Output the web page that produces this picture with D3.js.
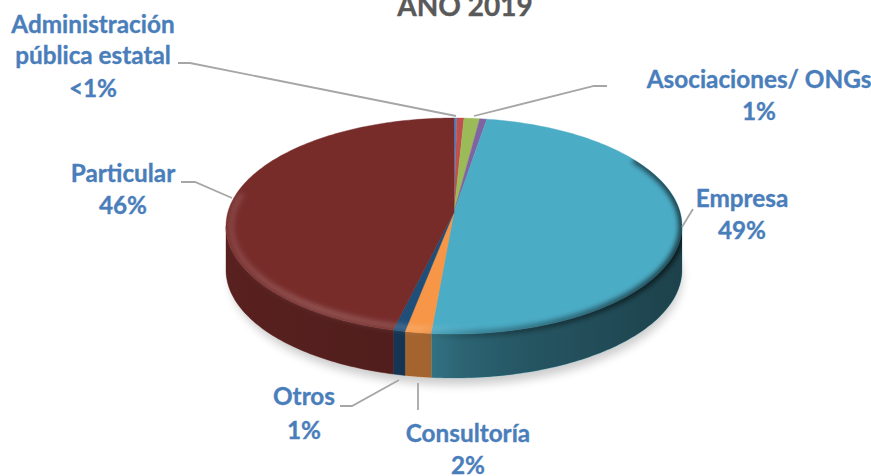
<!DOCTYPE html>
<html><head><meta charset="utf-8">
<script src="https://cdn.jsdelivr.net/npm/d3@7"></script>
<style>html,body{margin:0;background:#fff}svg{display:block}text{font-family:Lato,"Open Sans",sans-serif;font-weight:700}</style>
</head><body><svg id="c" width="871" height="476"></svg>
<script>
const categories=["Administración pública estatal","Rojo","Asociaciones/ ONGs","Morado","Empresa","Consultoría","Otros","Particular"];
const values=[0.2,0.5,1.1,0.5,49.3,1.85,0.85,45.7];
const colors=["#4f81bd","#c0504d","#9bbb59","#8064a2","#4bacc6","#f79646","#1f4e79","#772c2a"];
const labels=[
 {lines:["Administración","pública estatal","<1%"],x:93,y:[33,64,97],leader:[[178,63],[190,63],[456,116]]},
 {lines:["Asociaciones/ ONGs","1%"],x:759,y:[88,120],leader:[[607,86],[594,86],[474,116]]},
 {lines:["Empresa","49%"],x:742,y:[207,239],leader:[[693,209],[682,227]]},
 {lines:["Consultoría","2%"],x:468,y:[442,474],leader:[[418,410],[418,383]]},
 {lines:["Otros","1%"],x:304,y:[405,439],leader:[[340,406],[352,406],[399,380]]},
 {lines:["Particular","46%"],x:123,y:[182,214],leader:[[181,182],[195,182],[232,198]]}
];
const titleText="AÑO 2019";

const cx=454,cy=226,rx=228,ry=108,depth=44,apex=[454,212];
const svg=d3.select("#c"),defs=svg.append("defs");
const pieGen=d3.pie().sort(null).value(d=>d);
const arcs=pieGen(values);
const pt=(a,dy=0)=>[cx+rx*Math.sin(a),cy-ry*Math.cos(a)+dy];
const lineGen=d3.line();
const rad=d=>d*Math.PI/180;
function samples(a0,a1){const n=Math.max(2,Math.ceil((a1-a0)/0.02));return d3.range(n+1).map(i=>a0+(a1-a0)*i/n);}
function blurFilter(id,sd){const f=defs.append("filter").attr("id",id).attr("filterUnits","userSpaceOnUse").attr("x",0).attr("y",0).attr("width",871).attr("height",476);f.append("feGaussianBlur").attr("stdDeviation",sd);}
function hGrad(id,color,stops){const g=defs.append("linearGradient").attr("id",id).attr("gradientUnits","userSpaceOnUse").attr("x1",cx-rx).attr("x2",cx+rx).attr("y1",0).attr("y2",0);stops.forEach(s=>g.append("stop").attr("offset",s[0]).attr("stop-color",color).attr("stop-opacity",s[1]));}
blurFilter("b",5);blurFilter("b2",2.5);
hGrad("sideShade","#000",[[0,.26],[.35,.32],[.45,.34],[.52,.42],[.65,.5],[1,.62]]);
hGrad("rimLight","#fff",[[0,.12],[.2,.2],[.42,.16],[.52,.03],[.6,0],[1,0]]);
hGrad("rimDark","#000",[[0,0],[.42,0],[.55,.25],[.8,.45],[1,.65]]);

svg.append("ellipse").attr("cx",cx+2).attr("cy",cy+depth+7).attr("rx",rx-2).attr("ry",ry)
  .attr("fill","#000").attr("opacity",.2).attr("filter","url(#b)");

const sideG=svg.append("g");
arcs.forEach((d,i)=>{
  const a0=Math.max(d.startAngle,Math.PI/2),a1=Math.min(d.endAngle,Math.PI*1.5);
  if(a1<=a0)return;
  const s=samples(a0,a1);
  const p=s.map(a=>pt(a)).concat(s.slice().reverse().map(a=>pt(a,depth)));
  sideG.append("path").attr("d",lineGen(p)+"Z").attr("fill",colors[i]).attr("stroke",colors[i]).attr("stroke-width",.4);
  sideG.append("path").attr("d",lineGen(p)+"Z").attr("fill","url(#sideShade)");
});

const topG=svg.append("g");
arcs.forEach((d,i)=>{
  const p=[apex].concat(samples(d.startAngle,d.endAngle).map(a=>pt(a)));
  topG.append("path").attr("d",lineGen(p)+"Z").attr("fill",colors[i]).attr("stroke",colors[i]).attr("stroke-width",.4);
});
const silhouette=samples(0,Math.PI*2).map(a=>pt(a,Math.cos(a)<0?depth:0));
defs.append("clipPath").attr("id","pieClip").append("path").attr("d",lineGen(silhouette)+"Z");
const bevel=svg.append("g").attr("clip-path","url(#pieClip)");
const innerRim=samples(rad(175),rad(288)).map(a=>[cx+(rx-5)*Math.sin(a),cy-(ry-4)*Math.cos(a)]);
bevel.append("path").attr("d",lineGen(innerRim)).attr("fill","none")
  .attr("stroke","url(#rimLight)").attr("stroke-width",6).attr("filter","url(#b2)");
bevel.append("path").attr("d",lineGen(samples(rad(52),rad(192)).map(a=>pt(a)))).attr("fill","none")
  .attr("stroke","url(#rimDark)").attr("stroke-width",7).attr("filter","url(#b2)");

const leaderG=svg.append("g").attr("fill","none").attr("stroke","#a6a6a6").attr("stroke-width",1.8);
labels.forEach(l=>leaderG.append("path").attr("d",lineGen(l.leader)));

const textG=svg.append("g").attr("fill","#4a7ebb").attr("stroke","#4a7ebb").attr("stroke-width",.35).attr("font-size",24.3).attr("text-anchor","middle");
labels.forEach(l=>l.lines.forEach((t,i)=>textG.append("text").attr("x",l.x).attr("y",l.y[i]).text(t)));
svg.append("text").attr("x",465).attr("y",16).attr("text-anchor","middle").attr("font-size",28).attr("fill","#595959").attr("stroke","#595959").attr("stroke-width",.35).text(titleText);
</script></body></html>
